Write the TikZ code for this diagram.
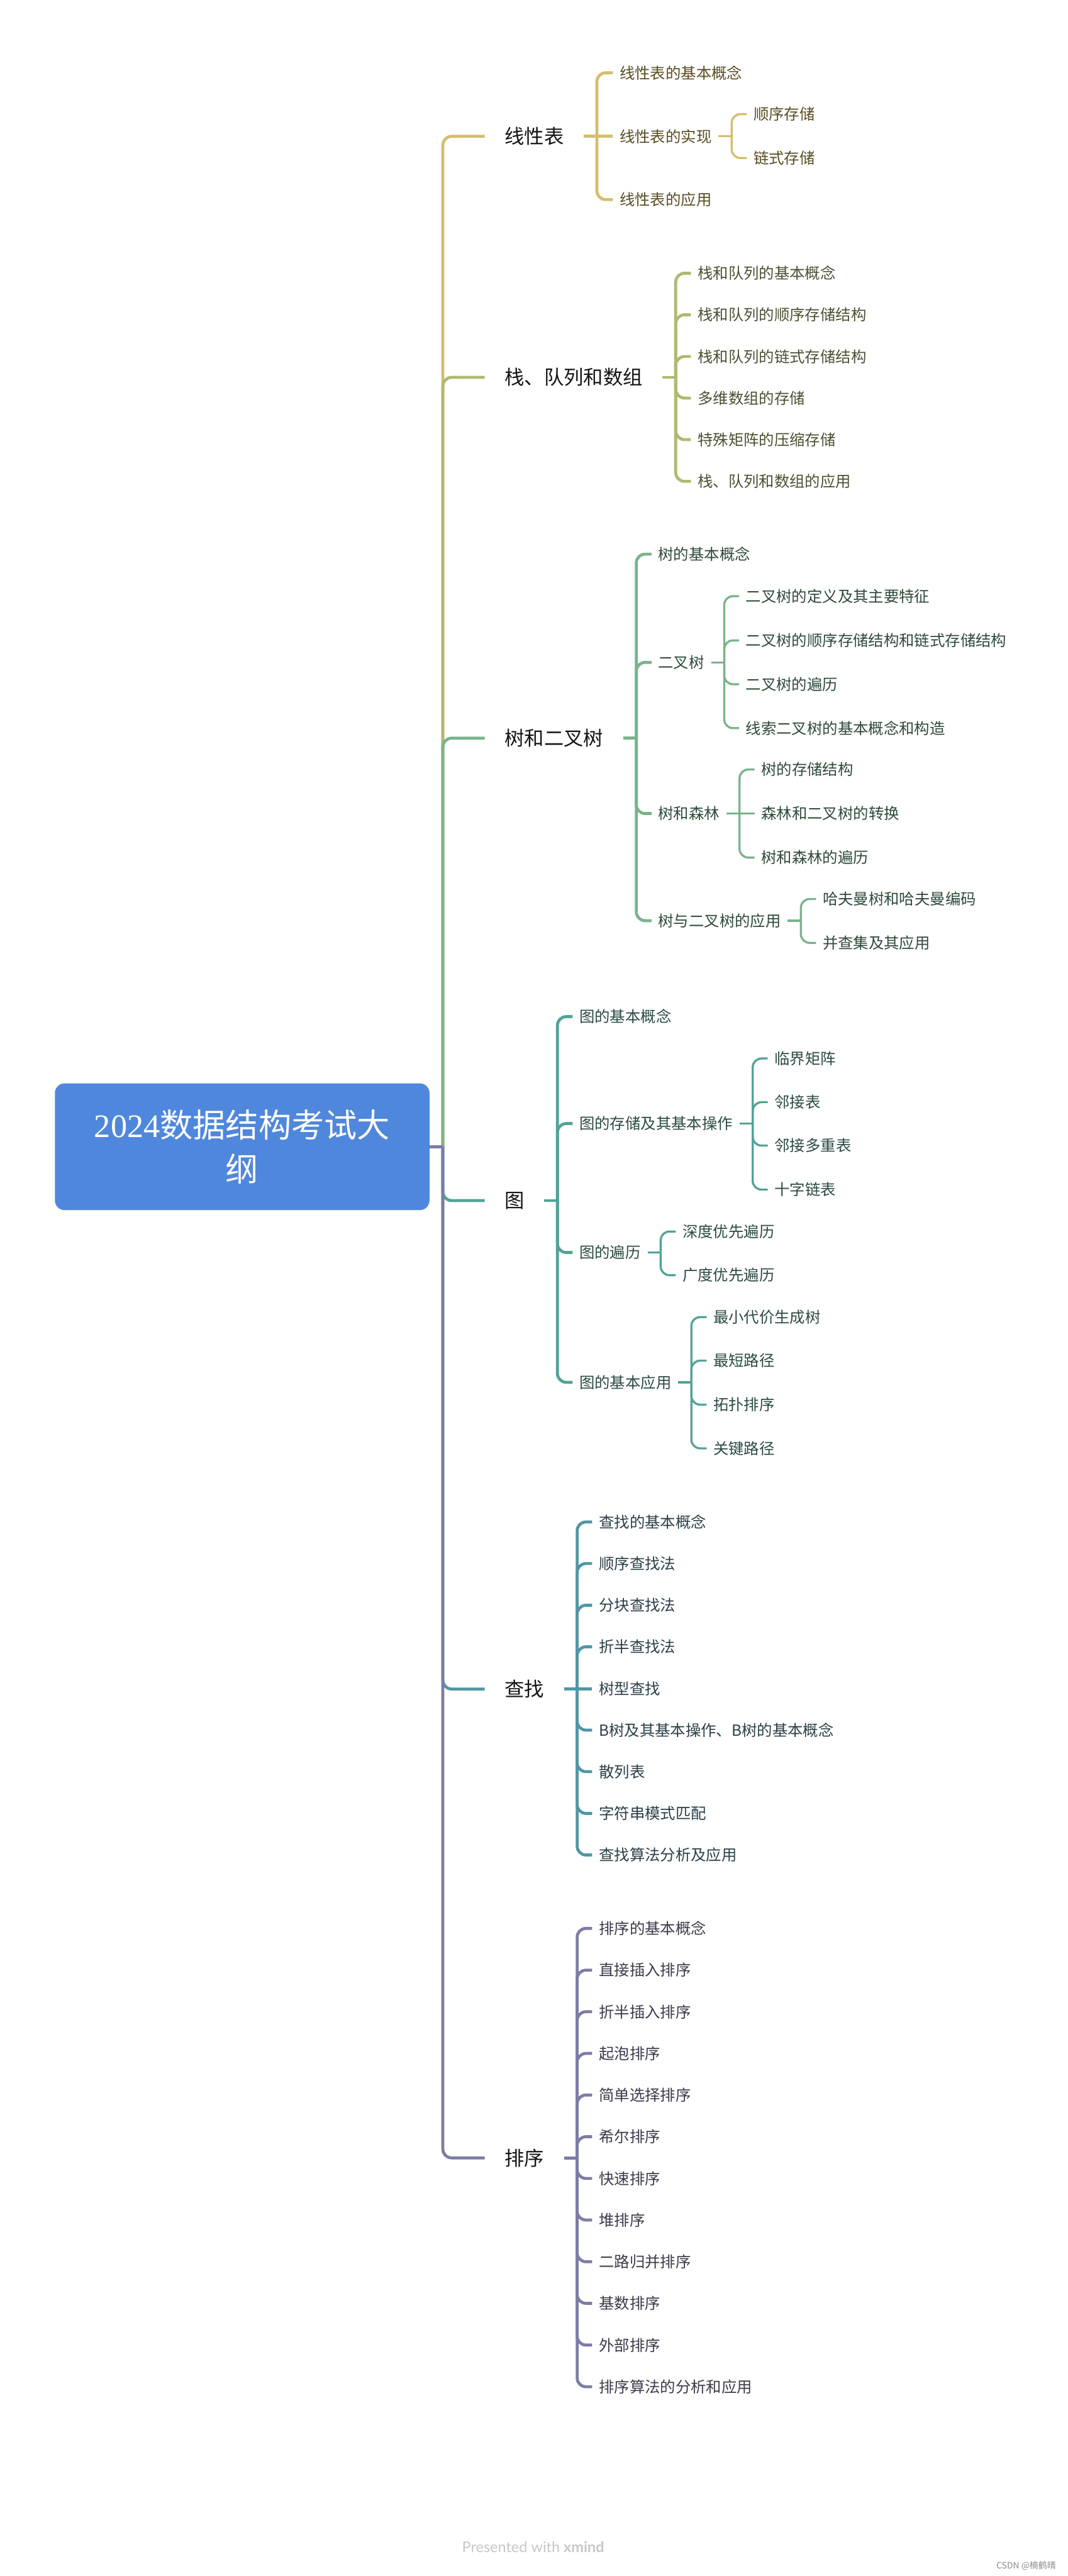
\documentclass[tikz,border=0pt]{standalone}
\usepackage{fontspec}
\setmainfont{Noto Sans CJK SC}
\newfontfamily\numfont{Liberation Serif}
\newfontfamily\markfont{Lato}

\definecolor{rootblue}{HTML}{4F87DC}
\definecolor{yelline}{HTML}{D5BD6C}
\definecolor{yeltext}{HTML}{5A4C22}
\definecolor{oliveline}{HTML}{B0B96F}
\definecolor{olivetext}{HTML}{4A5132}
\definecolor{greenline}{HTML}{79B38B}
\definecolor{greentext}{HTML}{2F4A38}
\definecolor{tealline}{HTML}{52A298}
\definecolor{tealtext}{HTML}{2B4A46}
\definecolor{blueline}{HTML}{5096A6}
\definecolor{bluetext}{HTML}{2B3F48}
\definecolor{purpleline}{HTML}{7C7CA6}
\definecolor{purpletext}{HTML}{3B3B4C}
\definecolor{footgray}{HTML}{C8C8C8}

\begin{document}
\begin{tikzpicture}[
    x=1.5pt, y=-1.5pt,
    rootbox/.style={fill=rootblue, rounded corners=9pt, minimum width=342pt, minimum height=115.8pt, align=center, text=white, font=\fontsize{30}{40}\selectfont},
    topic/.style={anchor=west, inner xsep=18pt, inner ysep=2pt, text=black!92, font=\fontsize{18}{20}\selectfont},
    leaf/.style={anchor=west, inner xsep=6pt, inner ysep=2pt, font=\fontsize{14}{16}\selectfont},
    linleaf/.style={leaf, text=yeltext},
    stackleaf/.style={leaf, text=olivetext},
    treeleaf/.style={leaf, text=greentext},
    graphleaf/.style={leaf, text=tealtext},
    searchleaf/.style={leaf, text=bluetext},
    sortleaf/.style={leaf, text=purpletext},
    mainline/.style={line width=2.7pt, rounded corners=8pt},
    subline/.style={line width=1.9pt, rounded corners=8pt}
]
\fill[white] (0,0) rectangle (650,1568);
\useasboundingbox (0,0) rectangle (650,1568);

\node[rootbox] (root) at (147.4,698) {{\numfont 2024}数据结构考试大\\纲};
\coordinate (trunk) at ([xshift=12pt]root.east);

\node[topic] (linear) at (295,83) {线性表};
\node[topic] (stack) at (295,229.7) {栈、队列和数组};
\node[topic] (tree) at (295,449.3) {树和二叉树};
\node[topic] (graph) at (295,730.8) {图};
\node[topic] (search) at (295,1028.1) {查找};
\node[topic] (sort) at (295,1313.5) {排序};

\node[linleaf] (lin1) at (373,44.3) {线性表的基本概念};
\node[linleaf] (lin2) at (373,83) {线性表的实现};
\node[linleaf] (lin3) at (373,121.5) {线性表的应用};
\node[linleaf] (lin2a) at (454.5,69.5) {顺序存储};
\node[linleaf] (lin2b) at (454.5,96.2) {链式存储};

\node[stackleaf] (stk1) at (420.5,166.3) {栈和队列的基本概念};
\node[stackleaf] (stk2) at (420.5,191.6) {栈和队列的顺序存储结构};
\node[stackleaf] (stk3) at (420.5,217) {栈和队列的链式存储结构};
\node[stackleaf] (stk4) at (420.5,242.3) {多维数组的存储};
\node[stackleaf] (stk5) at (420.5,267.6) {特殊矩阵的压缩存储};
\node[stackleaf] (stk6) at (420.5,293) {栈、队列和数组的应用};

\node[treeleaf] (tre1) at (396.5,337.3) {树的基本概念};
\node[treeleaf] (tre2) at (396.5,403.2) {二叉树};
\node[treeleaf] (tre3) at (396.5,495.2) {树和森林};
\node[treeleaf] (tre4) at (396.5,560.4) {树与二叉树的应用};
\node[treeleaf] (tre2a) at (449.8,362.9) {二叉树的定义及其主要特征};
\node[treeleaf] (tre2b) at (449.8,389.8) {二叉树的顺序存储结构和链式存储结构};
\node[treeleaf] (tre2c) at (449.8,416.5) {二叉树的遍历};
\node[treeleaf] (tre2d) at (449.8,443.2) {线索二叉树的基本概念和构造};
\node[treeleaf] (tre3a) at (459.2,468.4) {树的存储结构};
\node[treeleaf] (tre3b) at (459.2,495.2) {森林和二叉树的转换};
\node[treeleaf] (tre3c) at (459.2,522) {树和森林的遍历};
\node[treeleaf] (tre4a) at (496.6,547.2) {哈夫曼树和哈夫曼编码};
\node[treeleaf] (tre4b) at (496.6,573.9) {并查集及其应用};

\node[graphleaf] (gra1) at (348.5,618.8) {图的基本概念};
\node[graphleaf] (gra2) at (348.5,683.9) {图的存储及其基本操作};
\node[graphleaf] (gra3) at (348.5,762.4) {图的遍历};
\node[graphleaf] (gra4) at (348.5,841.4) {图的基本应用};
\node[graphleaf] (gra2a) at (467.3,644.3) {临界矩阵};
\node[graphleaf] (gra2b) at (467.3,670.9) {邻接表};
\node[graphleaf] (gra2c) at (467.3,697.3) {邻接多重表};
\node[graphleaf] (gra2d) at (467.3,724.1) {十字链表};
\node[graphleaf] (gra3a) at (411.3,749.6) {深度优先遍历};
\node[graphleaf] (gra3b) at (411.3,776.2) {广度优先遍历};
\node[graphleaf] (gra4a) at (430,801.7) {最小代价生成树};
\node[graphleaf] (gra4b) at (430,828.2) {最短路径};
\node[graphleaf] (gra4c) at (430,855) {拓扑排序};
\node[graphleaf] (gra4d) at (430,881.6) {关键路径};

\node[searchleaf] (sea1) at (360.4,926.4) {查找的基本概念};
\node[searchleaf] (sea2) at (360.4,951.7) {顺序查找法};
\node[searchleaf] (sea3) at (360.4,977.1) {分块查找法};
\node[searchleaf] (sea4) at (360.4,1002.4) {折半查找法};
\node[searchleaf] (sea5) at (360.4,1028.1) {树型查找};
\node[searchleaf] (sea6) at (360.4,1053.1) {B树及其基本操作、B树的基本概念};
\node[searchleaf] (sea7) at (360.4,1078.4) {散列表};
\node[searchleaf] (sea8) at (360.4,1103.8) {字符串模式匹配};
\node[searchleaf] (sea9) at (360.4,1129.1) {查找算法分析及应用};

\node[sortleaf] (sor1) at (360.4,1173.8) {排序的基本概念};
\node[sortleaf] (sor2) at (360.4,1199.2) {直接插入排序};
\node[sortleaf] (sor3) at (360.4,1224.5) {折半插入排序};
\node[sortleaf] (sor4) at (360.4,1249.9) {起泡排序};
\node[sortleaf] (sor5) at (360.4,1275.2) {简单选择排序};
\node[sortleaf] (sor6) at (360.4,1300.6) {希尔排序};
\node[sortleaf] (sor7) at (360.4,1326) {快速排序};
\node[sortleaf] (sor8) at (360.4,1351.3) {堆排序};
\node[sortleaf] (sor9) at (360.4,1376.7) {二路归并排序};
\node[sortleaf] (sor10) at (360.4,1402) {基数排序};
\node[sortleaf] (sor11) at (360.4,1427.4) {外部排序};
\node[sortleaf] (sor12) at (360.4,1452.8) {排序算法的分析和应用};

\coordinate (linj) at ([xshift=12pt]linear.east);
\coordinate (lin2j) at ([xshift=12pt]lin2.east);
\coordinate (stkj) at ([xshift=12pt]stack.east);
\coordinate (trej) at ([xshift=12pt]tree.east);
\coordinate (tre2j) at ([xshift=12pt]tre2.east);
\coordinate (tre3j) at ([xshift=12pt]tre3.east);
\coordinate (tre4j) at ([xshift=12pt]tre4.east);
\coordinate (graj) at ([xshift=12pt]graph.east);
\coordinate (gra2j) at ([xshift=12pt]gra2.east);
\coordinate (gra3j) at ([xshift=12pt]gra3.east);
\coordinate (gra4j) at ([xshift=12pt]gra4.east);
\coordinate (seaj) at ([xshift=12pt]search.east);
\coordinate (sorj) at ([xshift=12pt]sort.east);

\draw[mainline, yelline] (trunk) |- (linear.west);
\draw[mainline, oliveline] (trunk) |- (stack.west);
\draw[mainline, greenline] (trunk) |- (tree.west);
\draw[mainline, tealline] (trunk) |- (graph.west);
\draw[mainline, blueline] (trunk) |- (search.west);
\draw[mainline, purpleline] (trunk) |- (sort.west);
\draw[mainline, purpleline] (root.east) -- (trunk);

\draw[mainline, yelline] (linear.east) -- (linj);
\draw[mainline, yelline] (linj) |- (lin1.west);
\draw[mainline, yelline] (linj) -- (lin2.west);
\draw[mainline, yelline] (linj) |- (lin3.west);
\draw[subline, yelline] (lin2.east) -- (lin2j);
\draw[subline, yelline] (lin2j) |- (lin2a.west);
\draw[subline, yelline] (lin2j) |- (lin2b.west);

\draw[mainline, oliveline] (stack.east) -- (stkj);
\draw[mainline, oliveline] (stkj) |- (stk1.west);
\draw[mainline, oliveline] (stkj) |- (stk2.west);
\draw[mainline, oliveline] (stkj) |- (stk3.west);
\draw[mainline, oliveline] (stkj) |- (stk4.west);
\draw[mainline, oliveline] (stkj) |- (stk5.west);
\draw[mainline, oliveline] (stkj) |- (stk6.west);

\draw[mainline, greenline] (tree.east) -- (trej);
\draw[mainline, greenline] (trej) |- (tre1.west);
\draw[mainline, greenline] (trej) |- (tre2.west);
\draw[mainline, greenline] (trej) |- (tre3.west);
\draw[mainline, greenline] (trej) |- (tre4.west);
\draw[subline, greenline] (tre2.east) -- (tre2j);
\draw[subline, greenline] (tre2j) |- (tre2a.west);
\draw[subline, greenline] (tre2j) |- (tre2b.west);
\draw[subline, greenline] (tre2j) |- (tre2c.west);
\draw[subline, greenline] (tre2j) |- (tre2d.west);
\draw[subline, greenline] (tre3.east) -- (tre3j);
\draw[subline, greenline] (tre3j) |- (tre3a.west);
\draw[subline, greenline] (tre3j) -- (tre3b.west);
\draw[subline, greenline] (tre3j) |- (tre3c.west);
\draw[subline, greenline] (tre4.east) -- (tre4j);
\draw[subline, greenline] (tre4j) |- (tre4a.west);
\draw[subline, greenline] (tre4j) |- (tre4b.west);

\draw[mainline, tealline] (graph.east) -- (graj);
\draw[mainline, tealline] (graj) |- (gra1.west);
\draw[mainline, tealline] (graj) |- (gra2.west);
\draw[mainline, tealline] (graj) |- (gra3.west);
\draw[mainline, tealline] (graj) |- (gra4.west);
\draw[subline, tealline] (gra2.east) -- (gra2j);
\draw[subline, tealline] (gra2j) |- (gra2a.west);
\draw[subline, tealline] (gra2j) |- (gra2b.west);
\draw[subline, tealline] (gra2j) |- (gra2c.west);
\draw[subline, tealline] (gra2j) |- (gra2d.west);
\draw[subline, tealline] (gra3.east) -- (gra3j);
\draw[subline, tealline] (gra3j) |- (gra3a.west);
\draw[subline, tealline] (gra3j) |- (gra3b.west);
\draw[subline, tealline] (gra4.east) -- (gra4j);
\draw[subline, tealline] (gra4j) |- (gra4a.west);
\draw[subline, tealline] (gra4j) |- (gra4b.west);
\draw[subline, tealline] (gra4j) |- (gra4c.west);
\draw[subline, tealline] (gra4j) |- (gra4d.west);

\draw[mainline, blueline] (search.east) -- (seaj);
\draw[mainline, blueline] (seaj) |- (sea1.west);
\draw[mainline, blueline] (seaj) |- (sea2.west);
\draw[mainline, blueline] (seaj) |- (sea3.west);
\draw[mainline, blueline] (seaj) |- (sea4.west);
\draw[mainline, blueline] (seaj) -- (sea5.west);
\draw[mainline, blueline] (seaj) |- (sea6.west);
\draw[mainline, blueline] (seaj) |- (sea7.west);
\draw[mainline, blueline] (seaj) |- (sea8.west);
\draw[mainline, blueline] (seaj) |- (sea9.west);

\draw[mainline, purpleline] (sort.east) -- (sorj);
\draw[mainline, purpleline] (sorj) |- (sor1.west);
\draw[mainline, purpleline] (sorj) |- (sor2.west);
\draw[mainline, purpleline] (sorj) |- (sor3.west);
\draw[mainline, purpleline] (sorj) |- (sor4.west);
\draw[mainline, purpleline] (sorj) |- (sor5.west);
\draw[mainline, purpleline] (sorj) |- (sor6.west);
\draw[mainline, purpleline] (sorj) |- (sor7.west);
\draw[mainline, purpleline] (sorj) |- (sor8.west);
\draw[mainline, purpleline] (sorj) |- (sor9.west);
\draw[mainline, purpleline] (sorj) |- (sor10.west);
\draw[mainline, purpleline] (sorj) |- (sor11.west);
\draw[mainline, purpleline] (sorj) |- (sor12.west);

\node[text=footgray, font=\markfont\fontsize{13.5}{15}\selectfont] (credit) at (324.5,1550.4) {Presented with \textbf{xmind}};
\node[anchor=east, text=black!45, font=\fontsize{8}{9}\selectfont] (mark) at (645,1561.6) {CSDN @楠鹤晴};
\end{tikzpicture}
\end{document}
